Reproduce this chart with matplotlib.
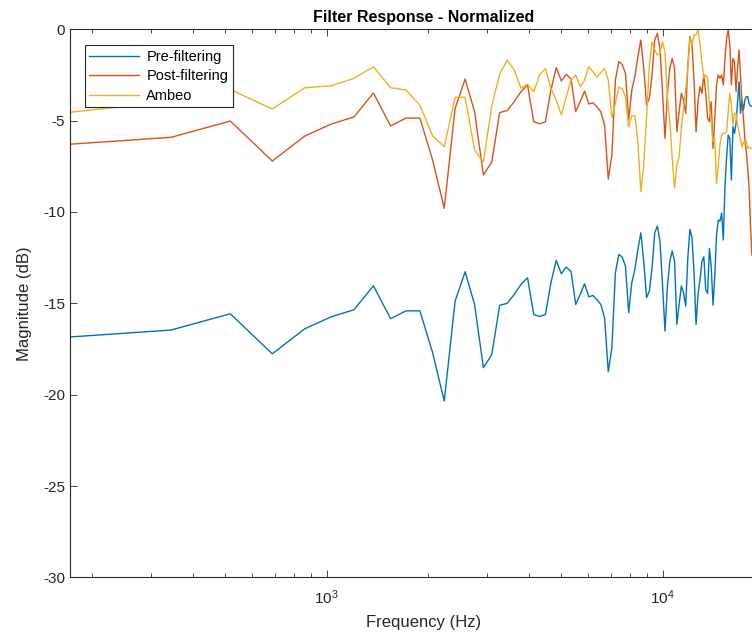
import numpy as np
import matplotlib
matplotlib.use("Agg")
import matplotlib.pyplot as plt
from matplotlib.ticker import LogLocator, NullFormatter

plt.rcParams['font.family'] = ['Liberation Sans', 'DejaVu Sans']
plt.rcParams['mathtext.fontset'] = 'custom'
plt.rcParams['mathtext.rm'] = 'Liberation Sans'
plt.rcParams['axes.unicode_minus'] = False

# FFT bin grid (fs = 44100, N = 256), bins 1..107
bin_hz = 44100 / 256
freqs = np.arange(1, 108) * bin_hz

pre_filtering = [
    -16.84, -16.46, -15.57, -17.76, -16.39, -15.73, -15.35, -14.04, -15.84, -15.41,
    -15.41, -17.70, -20.35, -14.88, -13.27, -15.06, -18.52, -17.81, -15.11, -15.00,
    -14.51, -13.96, -13.60, -15.61, -15.72, -15.61, -13.87, -12.65, -13.38, -13.01,
    -13.27, -15.06, -14.51, -13.93, -14.64, -14.57, -14.79, -15.06, -15.79, -18.74,
    -17.43, -13.33, -12.32, -12.47, -12.96, -15.51, -13.87, -13.14, -12.05, -11.14,
    -12.69, -14.69, -14.33, -13.05, -11.14, -10.77, -11.59, -13.96, -16.52, -14.05,
    -12.69, -12.14, -12.69, -16.15, -15.06, -14.05, -14.42, -15.15, -12.50, -10.95,
    -11.41, -13.33, -16.15, -14.51, -13.69, -12.70, -12.45, -14.27, -14.45, -11.99,
    -13.00, -15.10, -13.50, -11.26, -10.44, -10.50, -10.06, -11.53, -8.61, -7.00,
    -5.79, -5.97, -8.25, -5.33, -5.70, -5.15, -4.05, -2.87, -4.60, -3.87,
    -4.42, -3.87, -3.69, -3.69, -4.05, -4.20, -4.20,
]

post_filtering = [
    -6.29, -5.91, -5.02, -7.21, -5.84, -5.18, -4.80, -3.49, -5.29, -4.86,
    -4.86, -7.15, -9.80, -4.33, -2.72, -4.51, -7.97, -7.26, -4.56, -4.45,
    -3.96, -3.41, -3.05, -5.06, -5.17, -5.06, -3.32, -2.10, -2.83, -2.46,
    -2.72, -4.51, -3.96, -3.38, -4.09, -4.02, -4.24, -4.51, -5.24, -8.19,
    -6.88, -2.78, -1.77, -1.92, -2.41, -4.96, -3.32, -2.59, -1.50, -0.59,
    -2.14, -4.14, -3.78, -2.50, -0.59, -0.22, -1.04, -3.41, -5.97, -3.50,
    -2.14, -1.59, -2.14, -5.60, -4.51, -3.50, -3.87, -4.60, -1.95, -0.40,
    -0.86, -2.78, -5.60, -3.96, -3.14, -3.50, -2.50, -3.50, -4.87, -5.06,
    -3.96, -6.52, -4.87, -3.05, -2.50, -2.68, -2.50, -3.05, -1.59, -0.49,
    -0.04, -0.86, -3.05, -1.59, -1.77, -3.41, -2.14, -1.13, -2.50, -3.96,
    -4.87, -5.97, -6.70, -7.60, -8.70, -10.70, -12.35,
]

ambeo = [
    -4.54, -3.94, -3.30, -4.36, -3.20, -3.09, -2.68, -2.05, -3.20, -3.32,
    -4.16, -5.84, -6.43, -3.72, -3.72, -6.60, -7.25, -4.20, -2.46, -1.68,
    -2.23, -3.23, -3.01, -3.41, -2.50, -2.14, -3.23, -3.87, -4.69, -3.69,
    -2.78, -2.50, -3.14, -2.78, -2.05, -2.32, -2.63, -2.37, -2.14, -2.78,
    -4.84, -4.05, -3.16, -3.27, -3.69, -5.33, -4.73, -4.73, -6.15, -8.89,
    -7.43, -4.87, -1.95, -0.68, -1.13, -1.41, -1.30, -0.68, -1.22, -3.69,
    -5.06, -7.05, -8.70, -7.43, -6.97, -5.42, -4.33, -3.32, -2.14, -0.49,
    -0.86, -0.31, -0.31, -0.04, -0.86, -1.77, -2.68, -2.50, -2.68, -4.14,
    -5.06, -6.15, -5.97, -8.43, -7.43, -6.33, -5.79, -5.69, -5.69, -5.60,
    -4.51, -3.50, -4.14, -5.24, -4.60, -4.60, -5.24, -5.60, -6.06, -6.43,
    -6.15, -6.33, -6.15, -6.52, -6.43, -6.52, -6.52,
]

series_names = ['Pre-filtering', 'Post-filtering', 'Ambeo']
colors = ['#0072BD', '#D95319', '#EDB120']

W, H = 752, 637
fig = plt.figure(figsize=(W / 100, H / 100), dpi=100)
# axes box runs past the right edge of the image, like the clipped original
ax = fig.add_axes([70 / W, 1 - 577.4 / H, 708 / W, 548.1 / H])

for vals, name, c in zip([pre_filtering, post_filtering, ambeo], series_names, colors):
    ax.plot(freqs, vals, color=c, lw=1.0, label=name)

ax.set_xscale('log')
ax.set_xlim(bin_hz, 22050)
ax.set_ylim(-30, 0)
ax.set_yticks([-30, -25, -20, -15, -10, -5, 0])
ax.xaxis.set_major_locator(LogLocator(base=10, numticks=10))
ax.xaxis.set_minor_locator(LogLocator(base=10, subs=np.arange(2, 10), numticks=20))
ax.xaxis.set_minor_formatter(NullFormatter())

axcol = '#262626'
for s in ax.spines.values():
    s.set_color(axcol)
    s.set_linewidth(0.8)
ax.tick_params(which='both', direction='in', top=True, right=True, colors=axcol,
               labelsize=11, width=0.6)
ax.tick_params(which='major', length=5)
ax.tick_params(which='minor', length=3)
ax.tick_params(axis='x', pad=8)

ax.set_xlabel('Frequency (Hz)', fontsize=12, color=axcol, labelpad=6)
ax.set_ylabel('Magnitude (dB)', fontsize=12, color=axcol, labelpad=8)
ax.set_title('Filter Response - Normalized', fontsize=11.5, fontweight='bold', pad=5)

leg = ax.legend(loc='upper left', bbox_to_anchor=(15 / 708, 1 - 16 / 548),
                borderaxespad=0, fancybox=False, framealpha=1, fontsize=10.5,
                handlelength=3.4, handletextpad=0.5, labelspacing=0.38,
                borderpad=0.3)
leg.get_frame().set_edgecolor(axcol)
leg.get_frame().set_linewidth(0.8)

fig.savefig('out.png', dpi=100)
